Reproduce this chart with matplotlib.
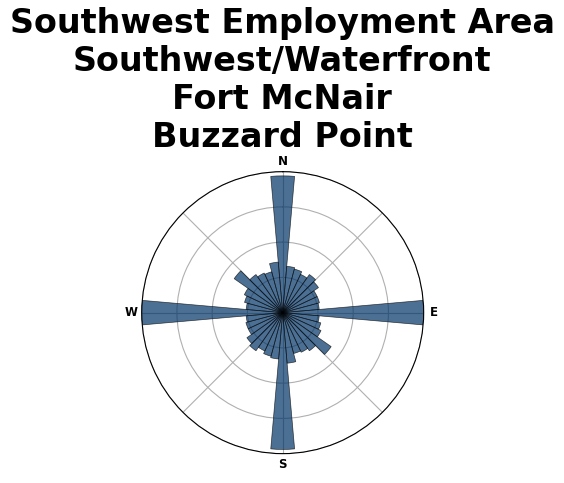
import matplotlib
matplotlib.use("Agg")
import matplotlib.pyplot as plt
import numpy as np

# street bearing distribution (sqrt-scaled frequency), bins centred every 10 deg
# only 0..170 listed, the opposite direction has the same value
bearings = np.arange(0, 180, 10)
radius_half = [0.97, 0.33, 0.32, 0.30, 0.33, 0.31, 0.27, 0.27, 0.26,
               1.00, 0.26, 0.28, 0.30, 0.42, 0.33, 0.31, 0.30, 0.36]
title = "Southwest Employment Area\nSouthwest/Waterfront\nFort McNair\nBuzzard Point"
compass = ["N", "", "E", "", "S", "", "W", ""]

radius = np.array(radius_half + radius_half)
positions = np.radians(np.concatenate([bearings, bearings + 180]))
width = 2 * np.pi / len(radius)

fig = plt.figure(figsize=(5.64, 4.83), dpi=100)
ax = fig.add_axes([0.2512, 0.0607, 0.5, 0.584], projection="polar")

ax.set_theta_zero_location("N")
ax.set_theta_direction("clockwise")
ax.set_ylim(top=radius.max())
ax.set_yticks(np.linspace(0, ax.get_ylim()[1], 5))
ax.set_yticklabels(labels="")
ax.set_xticks(np.radians(np.arange(0, 360, 45)))
ax.set_xticklabels(compass, fontdict={"family": "DejaVu Sans", "size": 8.5, "weight": "bold"})
ax.tick_params(axis="x", which="major", pad=-3)

ax.bar(positions, height=radius, width=width, align="center", bottom=0, zorder=2,
       color="#003366", edgecolor="k", linewidth=0.5, alpha=0.7)

fig.text(0.5, 0.986, title, ha="center", va="top", fontsize=24, fontweight="bold",
         family="DejaVu Sans", linespacing=1.2)

plt.savefig("out.png", dpi=100)
